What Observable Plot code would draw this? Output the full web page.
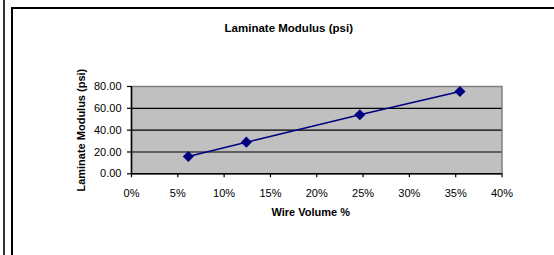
<!DOCTYPE html>
<html>
<head>
<meta charset="utf-8">
<script src="https://cdn.jsdelivr.net/npm/d3@7"></script>
<script src="https://cdn.jsdelivr.net/npm/@observablehq/plot@0.6"></script>
<style>
  html, body { margin: 0; padding: 0; background: #fff; overflow: hidden; }
  #wrap { position: relative; width: 554px; height: 255px; }
  #chart { position: absolute; left: 0; top: 0; }
  .edge { position: absolute; background: #000; }
</style>
</head>
<body>
<div id="wrap">
  <div class="edge" style="left:3px; top:0; width:1.5px; height:255px; background:#333;"></div>
  <div class="edge" style="left:11px; top:7px; width:2px; height:248px;"></div>
  <div class="edge" style="left:11px; top:6.5px; width:543px; height:2px;"></div>
  <div id="chart"></div>
</div>
<script>
const title = "Laminate Modulus (psi)";
const xLabel = "Wire Volume %";
const yLabel = "Laminate Modulus (psi)";
const wireVolume = [0.0613, 0.124, 0.2465, 0.3546];
const modulus = [15.9, 29.0, 54.1, 75.4];
const xTicks = [0, 0.05, 0.10, 0.15, 0.20, 0.25, 0.30, 0.35, 0.40];
const yTicks = [0, 20, 40, 60, 80];
const gridValues = [20, 40, 60];

const data = wireVolume.map((v, i) => ({x: v, y: modulus[i]}));
const font = "'Liberation Sans', Arial, sans-serif";

const chart = Plot.plot({
  width: 554,
  height: 255,
  marginLeft: 131,
  marginRight: 52.5,
  marginTop: 86,
  marginBottom: 81.7,
  style: {fontFamily: font, fontSize: "11px", background: "transparent", overflow: "visible"},
  x: {domain: [0, 0.4]},
  y: {domain: [0, 80]},
  marks: [
    Plot.frame({fill: "#c0c0c0", stroke: "#808080", strokeWidth: 1.5}),
    Plot.ruleY(gridValues, {stroke: "#000", strokeWidth: 1.2}),
    Plot.ruleY([0], {stroke: "#000", strokeWidth: 1.5}),
    Plot.ruleX([0], {stroke: "#000", strokeWidth: 1.5}),
    Plot.axisX({ticks: xTicks, tickFormat: d3.format(".0%"), tickSize: 4, tickPadding: 11, stroke: "#000", strokeWidth: 1.2, fill: "#000", label: null, fontSize: 11}),
    Plot.axisY({ticks: yTicks, tickFormat: d => d.toFixed(2), tickSize: 4, tickPadding: 6, stroke: "#000", strokeWidth: 1.2, fill: "#000", label: null, fontSize: 11}),
    Plot.line(data, {x: "x", y: "y", stroke: "#000080", strokeWidth: 1.5}),
    Plot.dot(data, {x: "x", y: "y", symbol: "diamond2", r: 5, fill: "#000080", stroke: "none"}),
    Plot.text([title], {frameAnchor: "top", lineAnchor: "middle", textAnchor: "middle", dx: -28, dy: -58, text: d => d, fontWeight: "bold", fontSize: 11.5, fill: "#000"}),
    Plot.text([yLabel], {frameAnchor: "left", lineAnchor: "middle", textAnchor: "middle", dx: -50.3, rotate: -90, text: d => d, fontWeight: "bold", fontSize: 11, fill: "#000"}),
    Plot.text([xLabel], {frameAnchor: "bottom", lineAnchor: "middle", textAnchor: "middle", dx: -6, dy: 39, text: d => d, fontWeight: "bold", fontSize: 11, fill: "#000"})
  ]
});
document.getElementById("chart").appendChild(chart);
</script>
</body>
</html>
